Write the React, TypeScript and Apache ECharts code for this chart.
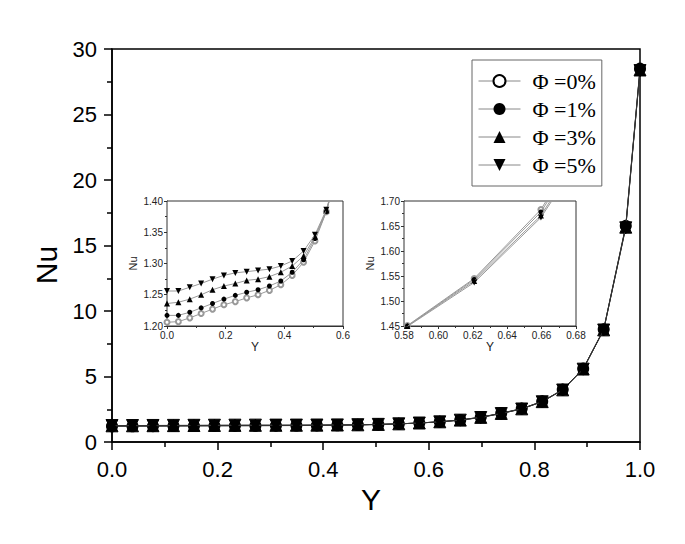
import React, { useEffect, useRef } from "react";
import * as echarts from "echarts";

const seriesNames = ["Φ =0%", "Φ =1%", "Φ =3%", "Φ =5%"];
const xValues = [0, 0.0388, 0.0776, 0.1164, 0.1552, 0.194, 0.2328, 0.2716, 0.3104, 0.3492, 0.388, 0.4268, 0.4656, 0.5044, 0.5432, 0.582, 0.6208, 0.6596, 0.6984, 0.7372, 0.776, 0.8148, 0.8536, 0.8924, 0.9312, 0.973, 1.0];
const nu0 = [1.206, 1.207, 1.213, 1.220, 1.227, 1.234, 1.239, 1.245, 1.250, 1.257, 1.266, 1.281, 1.302, 1.336, 1.383, 1.451, 1.545, 1.683, 1.90, 2.20, 2.55, 3.10, 4.00, 5.60, 8.60, 16.5, 28.5];
const nu1 = [1.217, 1.217, 1.222, 1.229, 1.236, 1.243, 1.249, 1.254, 1.258, 1.264, 1.272, 1.286, 1.306, 1.340, 1.383, 1.450, 1.543, 1.678, 1.89, 2.19, 2.54, 3.09, 3.99, 5.58, 8.58, 16.45, 28.45];
const nu3 = [1.236, 1.238, 1.243, 1.250, 1.258, 1.264, 1.268, 1.273, 1.275, 1.279, 1.286, 1.296, 1.312, 1.343, 1.385, 1.450, 1.540, 1.671, 1.88, 2.18, 2.53, 3.08, 3.98, 5.57, 8.56, 16.4, 28.4];
const nu5 = [1.256, 1.256, 1.262, 1.268, 1.275, 1.281, 1.285, 1.287, 1.289, 1.291, 1.296, 1.304, 1.320, 1.346, 1.386, 1.449, 1.537, 1.667, 1.87, 2.17, 2.52, 3.07, 3.97, 5.56, 8.55, 16.35, 28.35];
const allNu = [nu0, nu1, nu3, nu5];

const mainXTicks = [0, 0.2, 0.4, 0.6, 0.8, 1.0];
const mainYTicks = [0, 5, 10, 15, 20, 25, 30];
const mainYName = "Nu";

const symbols = ["emptyCircle", "circle", "triangle", "triangle"];
const rotations = [0, 0, 0, 180];

export default function App() {
  const ref = useRef<HTMLDivElement>(null);
  useEffect(() => {
    if (!ref.current) return;
    const chart = echarts.init(ref.current, null, { renderer: "svg" });
    const pairs = (arr: number[]) => xValues.map((x, i) => [x, arr[i]]);
    const tickFont = "Liberation Sans, Arial, sans-serif";
    const serif = "Liberation Serif, Times New Roman, serif";

    const series: any[] = [];
    allNu.forEach((arr, k) => {
      series.push({
        name: seriesNames[k],
        type: "line",
        xAxisIndex: 0,
        yAxisIndex: 0,
        data: pairs(arr),
        symbol: symbols[k],
        symbolRotate: rotations[k],
        symbolSize: k < 2 ? 10 : 12,
        showAllSymbol: true,
        lineStyle: { color: "#333", width: 1 },
        itemStyle: { color: "#000", borderColor: "#000" },
        z: 3 + k,
      });
    });
    [1, 2].forEach((gi) => {
      allNu.forEach((arr, k) => {
        series.push({
          name: seriesNames[k],
          type: "line",
          xAxisIndex: gi,
          yAxisIndex: gi,
          data: pairs(arr),
          symbol: symbols[k],
          symbolRotate: rotations[k],
          symbolSize: k < 2 ? 5 : 6,
          showAllSymbol: true,
          clip: true,
          lineStyle: { color: "#999", width: 1 },
          itemStyle: k === 0 ? { color: "#999", borderColor: "#999", borderWidth: 1 } : { color: "#000" },
          z: 10 + k,
        });
      });
    });

    const insetAxisCommon = {
      axisLine: { show: true, lineStyle: { color: "#333", width: 1 } },
      axisTick: { show: true, length: 3, lineStyle: { color: "#333" } },
      minorTick: { show: true, splitNumber: 2, length: 2, lineStyle: { color: "#333" } },
      splitLine: { show: false },
      axisLabel: { fontSize: 10, color: "#222", fontFamily: tickFont, margin: 4 },
    };

    const legendBase = {
      orient: "vertical",
      backgroundColor: "#fff",
      borderColor: "#888",
      borderWidth: 1,
      selectedMode: false,
      lineStyle: { color: "#888", width: 1 },
    };

    chart.setOption({
      animation: false,
      backgroundColor: "#fff",
      grid: [
        { left: 112, right: 45, top: 49, bottom: 102, show: true, borderColor: "#000", borderWidth: 1.5, backgroundColor: "transparent" },
        { left: 167, top: 201, width: 176, height: 125, show: true, borderColor: "#333", borderWidth: 1, backgroundColor: "#fff", z: 8 },
        { left: 404, top: 201, width: 172, height: 125, show: true, borderColor: "#333", borderWidth: 1, backgroundColor: "#fff", z: 8 },
      ],
      graphic: [
        {
          type: "text",
          x: 46,
          y: 265,
          rotation: Math.PI / 2,
          style: { text: mainYName, fontSize: 30, fontFamily: tickFont, fill: "#000", align: "center", verticalAlign: "middle" },
        },
      ],
      xAxis: [
        {
          type: "value", gridIndex: 0, min: 0, max: 1, interval: 0.2,
          name: "Y", nameLocation: "middle", nameGap: 35,
          nameTextStyle: { fontSize: 30, fontFamily: tickFont, color: "#000", padding: [0, 10, 0, 0] },
          axisLine: { show: true, lineStyle: { color: "#000", width: 1.5 } },
          axisTick: { show: true, length: 8, lineStyle: { color: "#000", width: 1.5 } },
          minorTick: { show: true, splitNumber: 2, length: 5, lineStyle: { color: "#000", width: 1.5 } },
          splitLine: { show: false },
          axisLabel: { fontSize: 22, color: "#000", fontFamily: tickFont, margin: 16, formatter: (v: number) => (mainXTicks.includes(Math.round(v * 10) / 10) ? v.toFixed(1) : "") },
        },
        {
          type: "value", gridIndex: 1, min: 0, max: 0.6, interval: 0.2,
          name: "Y", nameLocation: "middle", nameGap: 15,
          nameTextStyle: { fontSize: 12, fontFamily: tickFont, color: "#222" },
          ...insetAxisCommon,
          axisLabel: { ...insetAxisCommon.axisLabel, formatter: (v: number) => v.toFixed(1) },
        },
        {
          type: "value", gridIndex: 2, min: 0.58, max: 0.68, interval: 0.02,
          name: "Y", nameLocation: "middle", nameGap: 15,
          nameTextStyle: { fontSize: 12, fontFamily: tickFont, color: "#222" },
          ...insetAxisCommon,
          axisLabel: { ...insetAxisCommon.axisLabel, formatter: (v: number) => v.toFixed(2) },
        },
      ],
      yAxis: [
        {
          type: "value", gridIndex: 0, min: 0, max: 30, interval: 5,
          axisLine: { show: true, lineStyle: { color: "#000", width: 1.5 } },
          axisTick: { show: true, length: 8, lineStyle: { color: "#000", width: 1.5 } },
          minorTick: { show: true, splitNumber: 2, length: 5, lineStyle: { color: "#000", width: 1.5 } },
          splitLine: { show: false },
          axisLabel: { fontSize: 22, color: "#000", fontFamily: tickFont, margin: 15, formatter: (v: number) => (mainYTicks.includes(v) ? String(v) : "") },
        },
        {
          type: "value", gridIndex: 1, min: 1.2, max: 1.4, interval: 0.05,
          name: "Nu", nameLocation: "middle", nameGap: 29, nameRotate: 90,
          nameTextStyle: { fontSize: 11, fontFamily: tickFont, color: "#222" },
          ...insetAxisCommon,
          axisLabel: { ...insetAxisCommon.axisLabel, formatter: (v: number) => v.toFixed(2) },
        },
        {
          type: "value", gridIndex: 2, min: 1.45, max: 1.7, interval: 0.05,
          name: "Nu", nameLocation: "middle", nameGap: 29, nameRotate: 90,
          nameTextStyle: { fontSize: 11, fontFamily: tickFont, color: "#222" },
          ...insetAxisCommon,
          axisLabel: { ...insetAxisCommon.axisLabel, formatter: (v: number) => v.toFixed(2) },
        },
      ],
      legend: [
        {
          ...legendBase,
          left: 472, top: 60,
          padding: [10, 6, 10, 6],
          itemWidth: 42, itemHeight: 15, itemGap: 6,
          borderColor: "#666",
          textStyle: { fontSize: 22, fontFamily: serif, color: "#000", padding: [0, 0, 0, 7] },
          data: seriesNames,
        },
        {
          ...legendBase,
          left: 231, top: 205,
          padding: [3, 3, 3, 5],
          itemWidth: 12, itemHeight: 6, itemGap: 2.6,
          textStyle: { fontSize: 9, lineHeight: 10, fontFamily: serif, color: "#000" },
          data: seriesNames,
        },
        {
          ...legendBase,
          left: 417, top: 203,
          padding: [3, 3, 3, 5],
          itemWidth: 12, itemHeight: 6, itemGap: 3,
          textStyle: { fontSize: 9, lineHeight: 10, fontFamily: serif, color: "#000" },
          data: seriesNames,
        },
      ],
      series,
    });
    return () => chart.dispose();
  }, []);
  return <div ref={ref} style={{ width: 685, height: 544, position: "absolute", left: 0, top: 0 }} />;
}
